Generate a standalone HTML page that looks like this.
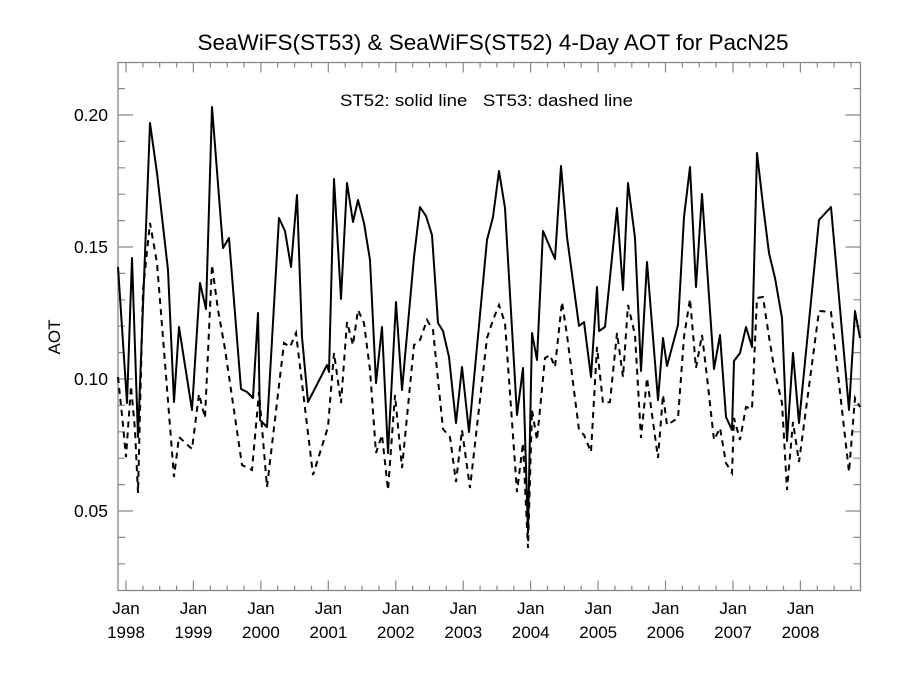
<!DOCTYPE html>
<html><head><meta charset="utf-8"><style>
html,body{margin:0;padding:0;background:#fff;}
svg{display:block;font-family:"Liberation Sans",Arial,sans-serif;}
</style></head><body>
<svg id="s" width="900" height="675" viewBox="0 0 900 675" xmlns="http://www.w3.org/2000/svg">
<rect width="900" height="675" fill="#fff"/>
<text x="493" y="50" font-size="22.5" text-anchor="middle" fill="#000">SeaWiFS(ST53) &amp; SeaWiFS(ST52) 4-Day AOT for PacN25</text>
<text x="340" y="106" font-size="16.5" fill="#000" textLength="293" lengthAdjust="spacingAndGlyphs" style="white-space:pre">ST52: solid line   ST53: dashed line</text>
<text x="60" y="337" font-size="17" text-anchor="middle" transform="rotate(-90 60 337)" fill="#000">AOT</text>
<g font-size="17.5" text-anchor="end" fill="#000">
<text x="108" y="121">0.20</text>
<text x="108" y="253">0.15</text>
<text x="108" y="385">0.10</text>
<text x="108" y="517">0.05</text>
</g>
<g id="xl" font-size="17" text-anchor="middle" fill="#000"></g>
<rect x="118" y="62.5" width="742.5" height="528" fill="none" stroke="#888" stroke-width="1.3"/>
<path id="ticks" fill="none" stroke="#888" stroke-width="1.2" d=""/>
<polyline fill="none" stroke="#000" stroke-width="2" stroke-linejoin="round" points="118,267 127,403 132,258 138,437 150,123 157,173 168,270 174,402 179,327 192,410 200,283 206,309 212,107 223,248 229,238 241,389 247,392 253,398 258,313 260,420 267,427 279,218 285,231 291,267 297,195 302,337 308,402 327,365 329,372 334,179 341,299 347,183 353,222 358,200 364,223 370,260 376,383 382,327 388,453 396,302 402,390 414,257 420,207 426,216 432,235 438,323 443,331 449,357 456,423 462,367 469,432 487,240 493,217 499,171 505,208 517,415 523,368 528,533 532,333 537,360 543,231 555,259 561,166 567,237 579,326 584,322 591,377 597,287 599,331 605,327 617,208 623,290 628,183 635,238 641,371 647,262 658,400 663,338 667,366 678,325 684,217 690,167 696,287 702,194 707,267 714,369 720,335 726,417 732,430 734,361 740,353 746,327 752,347 757,153 763,205 769,253 775,278 782,318 787,441 793,353 799,423 819,220 831,207 849,410 855,311 860,338"/>
<polyline fill="none" stroke="#000" stroke-width="2" stroke-dasharray="6,5" points="118,377 122,415 126,457 131,386 135,430 138,493 143,290 150,223 157,263 165,363 174,477 179,437 192,449 199,394 205,418 212,265 218,310 225,349 242,465 252,470 259,392 267,487 284,343 290,347 296,333 313,475 328,427 334,353 341,403 347,322 353,345 358,310 364,323 370,370 376,453 382,435 388,490 395,395 402,468 414,345 420,340 427,320 433,330 443,429 450,437 456,482 462,430 470,488 487,338 493,320 499,305 505,323 517,492 523,443 528,548 532,410 537,440 545,358 550,355 555,367 562,302 567,335 579,430 584,435 591,452 597,347 603,403 610,402 617,333 623,377 628,305 635,335 641,438 647,378 658,458 663,395 667,425 678,418 684,337 690,299 696,368 702,335 707,377 714,440 720,428 726,463 732,473 734,418 740,440 746,407 752,409 757,298 763,297 769,337 775,373 782,403 787,490 793,422 799,462 819,311 831,312 849,472 855,398 860,407"/>
</svg>
<script>
var d="";
for(var k=0;k<44;k++){var x=126+16.86*k;var L=(k%4==0)?10:5;
d+="M"+x.toFixed(1)+",590.5v-"+L+"M"+x.toFixed(1)+",62.5v"+L;}
for(var i=3;i<=21;i++){var y=511-(i/100-0.05)*2640;var L=(i%5==0)?15:7;
d+="M118,"+y.toFixed(1)+"h"+L+"M860.5,"+y.toFixed(1)+"h-"+L;}
document.getElementById("ticks").setAttribute("d",d);
var g=document.getElementById("xl"),h="";
for(var j=0;j<11;j++){var x=126+67.45*j;
h+='<text x="'+x.toFixed(1)+'" y="614">Jan</text><text x="'+x.toFixed(1)+'" y="638">'+(1998+j)+'</text>';}
g.innerHTML=h;
</script>
</body></html>
